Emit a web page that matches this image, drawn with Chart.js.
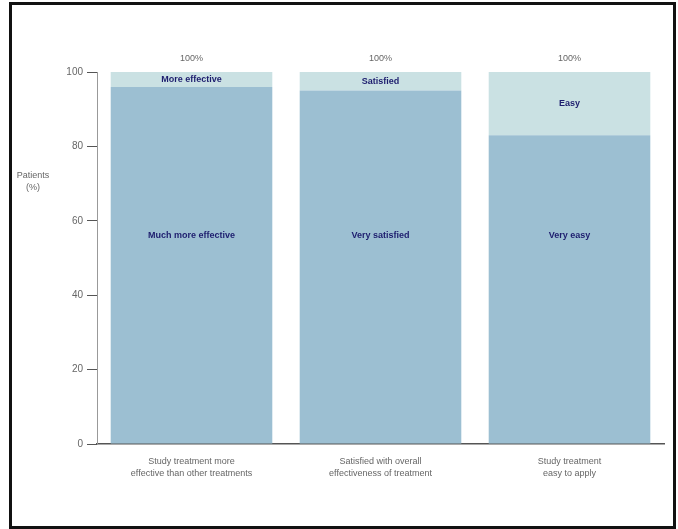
<!DOCTYPE html>
<html>
<head>
<meta charset="utf-8">
<script src="https://cdn.jsdelivr.net/npm/chart.js@4/dist/chart.umd.min.js"></script>
<style>
  html, body { margin: 0; padding: 0; background: #fff; }
  #c { position: absolute; left: 0; top: 0; }
  #frame { position: absolute; left: 9px; top: 2px; width: 661px; height: 521px; border: 3px solid #111; pointer-events: none; }
</style>
</head>
<body>
<canvas id="c" width="678" height="529"></canvas>
<div id="frame"></div>
<script>
// ---- data ----
const categories = [
  ["Study treatment more", "effective than other treatments"],
  ["Satisfied with overall", "effectiveness of treatment"],
  ["Study treatment", "easy to apply"]
];
const mainValues = [96, 95, 83];
const topValues = [4, 5, 17];
const mainLabels = ["Much more effective", "Very satisfied", "Very easy"];
const topLabels = ["More effective", "Satisfied", "Easy"];
const totalLabels = ["100%", "100%", "100%"];
const yTicks = [0, 20, 40, 60, 80, 100];
const yAxisTitle = ["Patients", "(%)"];

const DARK = "#9cbfd2";
const LIGHT = "#cae1e3";
const NAVY = "#1d1d6e";
const GREY = "#666666";

const labelPlugin = {
  id: "labels",
  afterDatasetsDraw(chart) {
    const ctx = chart.ctx;
    const y = chart.scales.y;
    ctx.save();
    ctx.textAlign = "center";
    ctx.textBaseline = "middle";
    const m0 = chart.getDatasetMeta(0);
    const m1 = chart.getDatasetMeta(1);
    m0.data.forEach((bar, i) => {
      ctx.font = "bold 9px 'Liberation Sans', Arial, sans-serif";
      ctx.fillStyle = NAVY;
      ctx.fillText(mainLabels[i], bar.x, y.getPixelForValue(56));
      const tb = m1.data[i];
      ctx.fillText(topLabels[i], tb.x, (tb.y + tb.base) / 2);
      ctx.font = "9px 'Liberation Sans', Arial, sans-serif";
      ctx.fillStyle = GREY;
      ctx.fillText(totalLabels[i], tb.x, tb.y - 13);
    });
    ctx.font = "9px 'Liberation Sans', Arial, sans-serif";
    ctx.fillStyle = GREY;
    yAxisTitle.forEach((t, k) => ctx.fillText(t, 33, 176 + k * 12));
    ctx.restore();
  }
};

new Chart(document.getElementById("c"), {
  type: "bar",
  data: {
    labels: categories,
    datasets: [
      { label: "main", data: mainValues, backgroundColor: DARK, borderWidth: 0 },
      { label: "top", data: topValues, backgroundColor: LIGHT, borderWidth: 0 }
    ]
  },
  options: {
    responsive: false,
    animation: false,
    devicePixelRatio: 1,
    layout: { padding: { left: 0, right: 14, top: 72, bottom: 0 } },
    datasets: { bar: { categoryPercentage: 1, barPercentage: 0.855 } },
    plugins: { legend: { display: false }, tooltip: { enabled: false } },
    scales: {
      x: {
        stacked: true,
        afterFit(s) { s.height = 85; },
        grid: { display: false, drawTicks: false },
        border: { display: true, color: "#555", width: 1.5 },
        ticks: {
          padding: 12,
          color: GREY,
          font: { size: 9, family: "'Liberation Sans', Arial, sans-serif", lineHeight: 1.3 }
        }
      },
      y: {
        stacked: true,
        min: 0, max: 100,
        afterFit(s) { s.width = 97; },
        afterBuildTicks(s) { s.ticks = yTicks.map(v => ({ value: v })); },
        grid: { drawOnChartArea: false, drawTicks: true, tickLength: 10, color: "#555", lineWidth: 1 },
        border: { display: true, color: "#999", width: 1 },
        ticks: {
          padding: 4,
          color: GREY,
          font: { size: 10, family: "'Liberation Sans', Arial, sans-serif" }
        }
      }
    }
  },
  plugins: [labelPlugin]
});
</script>
</body>
</html>
